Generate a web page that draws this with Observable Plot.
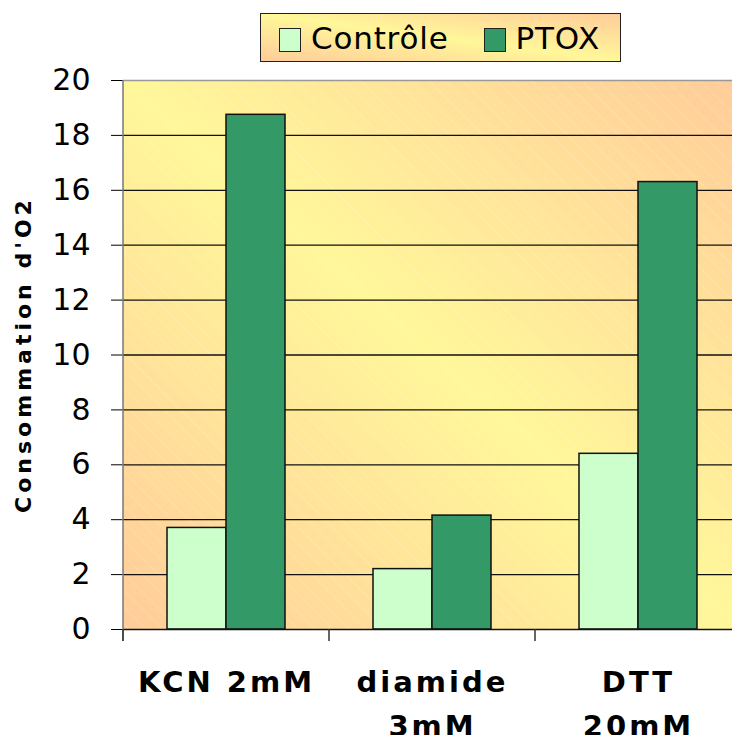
<!DOCTYPE html>
<html>
<head>
<meta charset="utf-8">
<script src="https://cdn.jsdelivr.net/npm/d3@7"></script>
<script src="https://cdn.jsdelivr.net/npm/@observablehq/plot@0.6"></script>
<style>
  html, body { margin: 0; padding: 0; background: white; }
  body { width: 732px; height: 735px; overflow: hidden; position: relative; font-family: "DejaVu Sans", Verdana, sans-serif; }
  #header { position: relative; height: 60px; }
  #legend {
    position: absolute; left: 260px; top: 13px; width: 361px; height: 49px; box-sizing: border-box;
    border: 1.5px solid #222;
    background: linear-gradient(to top right, #FFCC99 0%, #FFF799 50%, #FFCC99 100%);
    display: flex; align-items: center; padding-left: 18px; z-index: 2;
  }
  .sw { width: 22px; height: 24px; box-sizing: border-box; border: 1.5px solid #222; margin-top: 4px; }
  .lab { font-size: 31px; letter-spacing: 0.8px; margin-left: 10px; color: #000; }
  svg { max-width: none !important; display: block; }
  #chart svg g[aria-label="text"] text { letter-spacing: 3px; }
</style>
</head>
<body>
<div id="header"><div id="legend"></div></div>
<div id="chart"></div>
<script>
const categories = ["KCN 2mM", "diamide 3mM", "DTT 20mM"];
const categoryLabels = ["KCN 2mM", "diamide\n3mM", "DTT\n20mM"];
const series = ["Contrôle", "PTOX"];
const seriesColors = ["#CCFFCC", "#339966"];
const controleValues = [3.7, 2.2, 6.4];
const ptoxValues = [18.75, 4.15, 16.3];
const yTicks = [0, 2, 4, 6, 8, 10, 12, 14, 16, 18, 20];
const yTitle = "Consommation d'O2";

const data = categories.flatMap((c, i) => [
  {cat: c, series: series[0], value: controleValues[i]},
  {cat: c, series: series[1], value: ptoxValues[i]}
]);

// legend
const legend = document.getElementById("legend");
series.forEach((s, i) => {
  const sw = document.createElement("div");
  sw.className = "sw"; sw.style.background = seriesColors[i];
  if (i > 0) sw.style.marginLeft = "35px";
  const t = document.createElement("span");
  t.className = "lab"; t.textContent = s;
  legend.appendChild(sw); legend.appendChild(t);
});

const plot = Plot.plot({
  width: 741, height: 675,
  marginLeft: 123, marginRight: 0, marginTop: 20, marginBottom: 106,
  style: {fontFamily: "'DejaVu Sans', Verdana, sans-serif", fontSize: "30px", background: "transparent", color: "#000"},
  fx: {domain: categories, paddingInner: 0, paddingOuter: 0, axis: null, label: null},
  x: {domain: series, paddingInner: 0, paddingOuter: 0.717, axis: null, label: null},
  y: {domain: [0, 20], ticks: yTicks, tickSize: 12, tickPadding: 21, label: null},
  color: {domain: series, range: seriesColors},
  marks: [
    Plot.ruleY(yTicks.filter(v => v > 0 && v < 20), {stroke: "#111", strokeWidth: 1.3}),
    Plot.ruleY([20], {stroke: "#999", strokeWidth: 1.5}),
    Plot.barY(data, {fx: "cat", x: "series", y: "value", fill: "series", stroke: "#111", strokeWidth: 1.5}),
    Plot.ruleY([0], {stroke: "#111", strokeWidth: 1.5}),
    Plot.text(categories, {fx: d => d, text: (d, i) => categoryLabels[i], frameAnchor: "bottom", lineAnchor: "top", dy: 32, fontSize: 29, fontWeight: "bold", lineHeight: 1.5, fill: "#000"})
  ]
});
document.getElementById("chart").appendChild(plot);

// plot-area background, frame and boundary ticks derived from the scales
const svg = d3.select(plot);
const fx = plot.scale("fx");
const y = plot.scale("y");
const x0 = fx.range[0], x1 = fx.range[1];
const yTop = Math.min(...y.range), yBot = Math.max(...y.range);

const defs = svg.insert("defs", ":first-child");
const grad = defs.append("linearGradient").attr("id", "bgGrad")
  .attr("x1", 0).attr("y1", 1).attr("x2", 1).attr("y2", 0);
grad.append("stop").attr("offset", "0%").attr("stop-color", "#FFCC99");
grad.append("stop").attr("offset", "50%").attr("stop-color", "#FFF799");
grad.append("stop").attr("offset", "100%").attr("stop-color", "#FFCC99");
const pat = defs.append("pattern").attr("id", "hatch").attr("patternUnits", "userSpaceOnUse")
  .attr("width", 12).attr("height", 12).attr("patternTransform", "rotate(-45)");
pat.append("line").attr("x1", 0).attr("y1", 0).attr("x2", 0).attr("y2", 12)
  .attr("stroke", "white").attr("stroke-opacity", 0.3).attr("stroke-width", 1);

const bgG = svg.insert("g", "defs + *");
bgG.append("rect").attr("x", x0).attr("y", yTop).attr("width", x1 - x0).attr("height", yBot - yTop).attr("fill", "url(#bgGrad)");
bgG.append("rect").attr("x", x0).attr("y", yTop).attr("width", x1 - x0).attr("height", yBot - yTop).attr("fill", "url(#hatch)");

// left frame line and category boundary ticks
svg.append("line").attr("x1", x0).attr("x2", x0).attr("y1", yTop).attr("y2", yBot + 12)
  .attr("stroke", "#777").attr("stroke-width", 1.5);
categories.forEach(c => {
  const bx = fx.apply(c);
  svg.append("line").attr("x1", bx).attr("x2", bx).attr("y1", yBot).attr("y2", yBot + 12)
    .attr("stroke", "#333").attr("stroke-width", 1.5);
});

// y-axis title
svg.append("text")
  .attr("transform", `translate(23, ${(yTop + yBot) / 2}) rotate(-90)`)
  .attr("text-anchor", "middle").attr("dominant-baseline", "central")
  .attr("font-family", "'DejaVu Sans', Verdana, sans-serif")
  .attr("font-size", 22).attr("font-weight", "bold").attr("letter-spacing", 4)
  .text(yTitle);
</script>
</body>
</html>
